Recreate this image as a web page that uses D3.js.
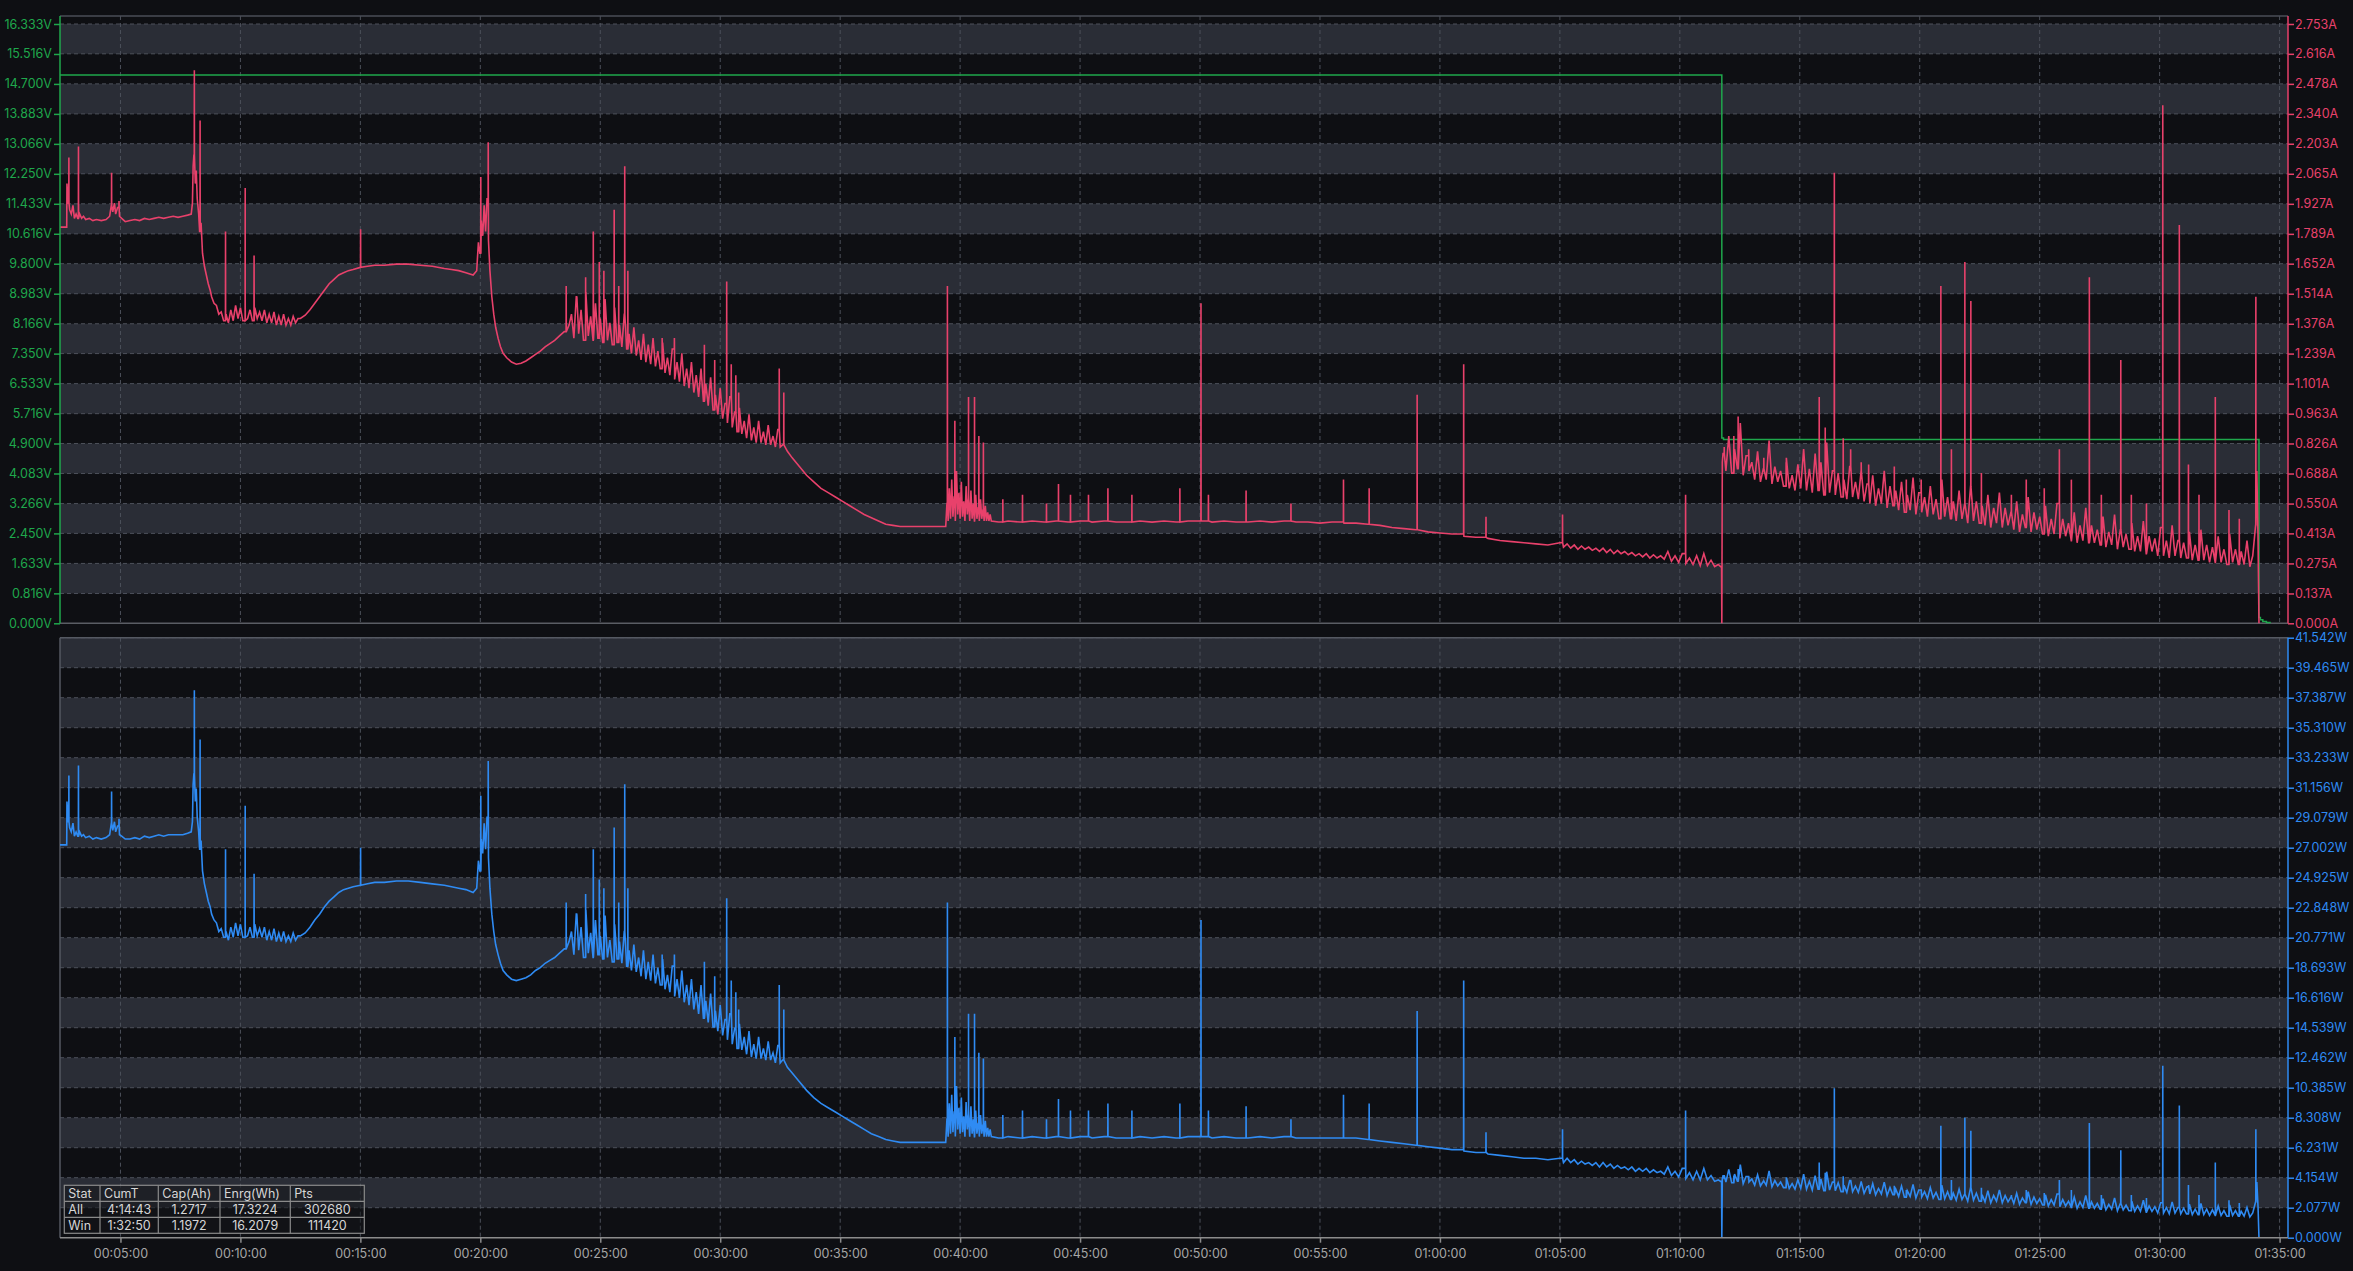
<!DOCTYPE html>
<html><head><meta charset="utf-8">
<script src="https://cdn.jsdelivr.net/npm/d3@7"></script>
<style>
html,body{margin:0;padding:0;background:#0e0f13;}
svg{display:block;}
</style></head><body>
<svg id="chart" width="2353" height="1271"></svg>
<script>
// ---------------- DATA ----------------
const voltLabels = ["0.000V","0.816V","1.633V","2.450V","3.266V","4.083V","4.900V","5.716V","6.533V","7.350V","8.166V","8.983V","9.800V","10.616V","11.433V","12.250V","13.066V","13.883V","14.700V","15.516V","16.333V"];
const ampLabels = ["0.000A","0.137A","0.275A","0.413A","0.550A","0.688A","0.826A","0.963A","1.101A","1.239A","1.376A","1.514A","1.652A","1.789A","1.927A","2.065A","2.203A","2.340A","2.478A","2.616A","2.753A"];
const wattLabels = ["0.000W","2.077W","4.154W","6.231W","8.308W","10.385W","12.462W","14.539W","16.616W","18.693W","20.771W","22.848W","24.925W","27.002W","29.079W","31.156W","33.233W","35.310W","37.387W","39.465W","41.542W"];
const timeTicks = [5,10,15,20,25,30,35,40,45,50,55,60,65,70,75,80,85,90,95];
const timeLabels = ["00:05:00","00:10:00","00:15:00","00:20:00","00:25:00","00:30:00","00:35:00","00:40:00","00:45:00","00:50:00","00:55:00","01:00:00","01:05:00","01:10:00","01:15:00","01:20:00","01:25:00","01:30:00","01:35:00"];

// voltage (minutes, V)
const voltT = [2.48, 71.74, 71.75, 71.82, 94.13, 94.14, 94.20, 94.30, 94.45, 94.60];
const voltV = [14.94, 14.94, 5.05, 5.01, 5.01, 0.16, 0.10, 0.05, 0.02, 0.00];

// current / power: individually read samples (minutes, A, W)
const timeMin = [
2.48,2.76,2.77,2.82,2.88,2.95,3.02,3.08,3.15,3.22,
3.30,3.38,3.46,3.55,3.70,3.85,4.00,4.20,4.40,4.55,
4.62,4.68,4.75,4.80,4.88,4.96,5.05,5.20,5.40,5.60,
5.80,6.00,6.20,6.40,6.60,6.80,7.00,7.20,7.40,7.60,
7.80,7.95,8.00,8.03,8.06,8.12,8.16,8.20,8.26,8.30,
8.36,8.42,8.50,8.58,8.66,8.74,
12.70,12.90,13.10,13.30,13.50,13.70,13.90,14.10,14.30,14.50,14.70,
15.00,15.30,15.60,16.00,16.50,17.00,17.50,18.00,18.50,18.80,
19.10,19.40,19.70,19.85,19.92,19.98,20.04,20.10,20.16,20.22,
20.28,20.34,20.40,20.48,20.56,20.64,20.74,20.84,20.95,21.10,
21.30,21.50,21.70,21.90,22.10,22.30,22.50,22.70,22.90,23.10,
23.30,23.50,23.70,
32.80,33.00,33.30,33.60,33.90,34.20,34.50,34.80,35.10,35.40,
35.70,36.00,36.30,36.60,36.90,37.20,37.50,38.00,38.50,39.00,39.40,
41.6,42.0,42.5,43.0,43.5,44.0,44.5,45.0,45.5,46.0,
46.5,47.0,47.5,48.0,48.5,49.0,49.5,50.0,50.5,51.0,
51.5,52.0,52.5,53.0,53.5,54.0,54.5,55.0,55.5,56.0,
56.5,57.0,57.5,58.0,58.5,59.0,59.5,60.0,60.5,61.0,
61.5,62.0,62.5,63.0,63.5,64.0,64.5,
71.70,71.74,71.75,71.77,
94.05,94.10,94.14
];
const currentA = [
1.82,1.82,2.02,1.93,1.90,1.88,1.92,1.86,1.88,1.86,
1.88,1.86,1.87,1.855,1.86,1.85,1.855,1.85,1.855,1.87,
1.92,1.89,1.93,1.88,1.91,1.87,1.86,1.845,1.85,1.855,
1.85,1.86,1.855,1.86,1.865,1.86,1.865,1.87,1.865,1.87,
1.875,1.88,1.93,2.10,2.15,2.02,2.08,1.95,1.88,1.80,
1.84,1.70,1.64,1.60,1.56,1.53,
1.415,1.44,1.47,1.50,1.53,1.56,1.58,1.60,1.61,1.62,1.625,
1.635,1.64,1.645,1.645,1.65,1.65,1.645,1.64,1.63,1.625,
1.62,1.61,1.60,1.62,1.75,1.70,1.85,1.78,1.92,1.80,
1.95,1.76,1.62,1.50,1.42,1.36,1.31,1.27,1.24,1.22,
1.20,1.19,1.195,1.205,1.22,1.235,1.25,1.27,1.285,1.30,
1.32,1.34,1.37,
0.79,0.76,0.72,0.68,0.65,0.62,0.60,0.58,0.56,0.54,
0.52,0.50,0.485,0.47,0.455,0.45,0.445,0.445,0.445,0.445,0.445,
0.465,0.47,0.465,0.47,0.465,0.47,0.465,0.47,0.465,0.47,
0.465,0.465,0.47,0.465,0.47,0.465,0.47,0.47,0.465,0.47,
0.465,0.465,0.47,0.465,0.47,0.465,0.465,0.46,0.465,0.46,
0.46,0.455,0.45,0.44,0.435,0.43,0.42,0.415,0.41,0.40,
0.395,0.39,0.38,0.375,0.37,0.365,0.36,
0.26,0.26,0.0,0.74,
0.70,0.40,0.0
];
const powerW = [
27.2,27.2,30.2,28.8,28.4,28.1,28.7,27.8,28.1,27.8,
28.1,27.8,27.9,27.7,27.8,27.6,27.7,27.6,27.7,27.9,
28.7,28.2,28.8,28.1,28.5,27.9,27.8,27.6,27.6,27.7,
27.6,27.8,27.7,27.8,27.9,27.8,27.9,27.9,27.9,27.9,
28.0,28.1,28.8,31.4,32.1,30.2,31.1,29.1,28.1,26.9,
27.5,25.4,24.5,23.9,23.3,22.9,
21.1,21.5,22.0,22.4,22.9,23.3,23.6,23.9,24.1,24.2,24.3,
24.4,24.5,24.6,24.6,24.7,24.7,24.6,24.5,24.4,24.3,
24.2,24.1,23.9,24.2,26.1,25.4,27.6,26.6,28.7,26.9,
29.1,26.3,24.2,22.4,21.2,20.3,19.6,19.0,18.5,18.2,
17.9,17.8,17.9,18.0,18.2,18.5,18.7,19.0,19.2,19.4,
19.7,20.0,20.5,
11.8,11.4,10.8,10.2,9.7,9.3,9.0,8.7,8.4,8.1,
7.8,7.5,7.2,7.0,6.8,6.7,6.6,6.6,6.6,6.6,6.6,
6.9,7.0,6.9,7.0,6.9,7.0,6.9,7.0,6.9,7.0,
6.9,6.9,7.0,6.9,7.0,6.9,7.0,7.0,6.9,7.0,
6.9,6.9,7.0,6.9,7.0,6.9,6.9,6.9,6.9,6.9,
6.9,6.8,6.7,6.6,6.5,6.4,6.3,6.2,6.1,6.0,
5.9,5.8,5.7,5.6,5.5,5.5,5.4,
3.9,3.9,0,4.07,
3.85,2.2,0
];

// noisy stretches, read at a fixed sampling step (start minute, step minutes, values)
const noisy1Start = 8.80, noisy1Step = 0.1;
const noisy1A = [
1.50,1.47,1.46,1.42,1.43,1.39,1.42,1.38,1.44,1.39,
1.46,1.40,1.45,1.39,1.47,1.40,1.44,1.39,1.45,1.40,
1.43,1.39,1.44,1.38,1.42,1.38,1.43,1.37,1.41,1.37,
1.42,1.37,1.40,1.37,1.41,1.38,1.40,1.40];
const noisy1W = [
22.4,22.0,21.8,21.2,21.4,20.8,21.2,20.6,21.5,20.8,
21.8,20.9,21.7,20.8,22.0,20.9,21.5,20.8,21.7,20.9,
21.4,20.8,21.5,20.6,21.2,20.6,21.4,20.5,21.1,20.5,
21.2,20.5,20.9,20.5,21.1,20.6,20.9,20.9];

const noisy2Start = 23.80, noisy2Step = 0.1;
const noisy2A = [
1.42,1.31,1.50,1.33,1.44,1.30,1.52,1.32,1.41,1.30,
1.47,1.31,1.40,1.29,1.49,1.30,1.38,1.28,1.45,1.29,
1.37,1.27,1.42,1.26,1.33,1.24,1.36,1.23,1.30,1.21,
1.33,1.20,1.28,1.19,1.31,1.18,1.25,1.17,1.29,1.15,
1.22,1.14,1.26,1.12,1.20,1.11,1.24,1.09,1.17,1.08,
1.20,1.06,1.14,1.04,1.17,1.02,1.10,1.00,1.13,0.98,
1.05,0.96,1.08,0.94,1.01,0.92,1.04,0.90,0.97,0.88,
0.99,0.87,0.93,0.85,0.96,0.84,0.90,0.83,0.93,0.83,
0.88,0.82,0.91,0.82,0.86,0.81,0.89,0.81,0.82];
const noisy2W = [
21.2,19.6,22.4,19.9,21.5,19.4,22.7,19.7,21.1,19.4,
22.0,19.6,20.9,19.3,22.3,19.4,20.6,19.1,21.7,19.3,
20.5,19.0,21.2,18.8,19.9,18.5,20.3,18.4,19.4,18.1,
19.9,17.9,19.1,17.8,19.6,17.6,18.7,17.5,19.3,17.2,
18.2,17.0,18.8,16.7,17.9,16.6,18.5,16.3,17.5,16.1,
17.9,15.8,17.0,15.5,17.5,15.2,16.4,14.9,16.9,14.6,
15.7,14.3,16.1,14.0,15.1,13.7,15.5,13.4,14.5,13.1,
14.8,13.0,13.9,12.7,14.3,12.5,13.4,12.4,13.9,12.4,
13.1,12.3,13.6,12.3,12.8,12.1,13.3,12.1,12.3];

const noisy3Start = 39.45, noisy3Step = 0.05;
const noisy3A = [
0.55,0.47,0.62,0.48,0.66,0.49,0.58,0.47,0.70,0.50,
0.60,0.48,0.65,0.49,0.56,0.47,0.63,0.50,0.57,0.47,
0.61,0.48,0.55,0.47,0.59,0.48,0.53,0.47,0.57,0.48,
0.52,0.47,0.54,0.47,0.51,0.47,0.50,0.47];
const noisy3W = [
8.2,7.0,9.3,7.2,9.9,7.3,8.7,7.0,10.5,7.5,
9.0,7.2,9.7,7.3,8.4,7.0,9.4,7.5,8.5,7.0,
9.1,7.2,8.2,7.0,8.8,7.2,7.9,7.0,8.5,7.2,
7.8,7.0,8.1,7.0,7.6,7.0,7.5,7.0];

const noisy4Start = 65.00, noisy4Step = 0.15;
const noisy4A = [
0.37,0.35,0.365,0.345,0.36,0.34,0.355,0.34,0.35,0.335,
0.345,0.33,0.345,0.325,0.34,0.32,0.335,0.32,0.33,0.315,
0.325,0.31,0.32,0.305,0.32,0.30,0.315,0.30,0.31,0.295,
0.33,0.285,0.31,0.28,0.32,0.275,0.30,0.27,0.31,0.265,
0.32,0.265,0.29,0.26,0.27];
const noisy4W = [
5.5,5.2,5.5,5.2,5.4,5.1,5.3,5.1,5.2,5.0,
5.2,4.9,5.2,4.9,5.1,4.8,5.0,4.8,4.9,4.7,
4.9,4.6,4.8,4.6,4.8,4.5,4.7,4.5,4.6,4.4,
4.9,4.3,4.6,4.2,4.8,4.1,4.5,4.0,4.6,4.0,
4.8,4.0,4.3,3.9,4.0];

const noisy5Start = 71.80, noisy5Step = 0.12;
const noisy5A = [
0.78,0.70,0.86,0.69,0.80,0.71,0.92,0.68,0.77,0.70,
0.74,0.66,0.79,0.65,0.71,0.66,0.84,0.64,0.72,0.65,
0.70,0.63,0.76,0.62,0.68,0.61,0.73,0.62,0.80,0.61,
0.71,0.60,0.78,0.61,0.74,0.59,0.83,0.60,0.70,0.59,
0.69,0.58,0.66,0.57,0.72,0.58,0.65,0.57,0.70,0.56,
0.64,0.55,0.68,0.54,0.62,0.55,0.70,0.53,0.63,0.54,
0.61,0.52,0.65,0.51,0.59,0.52,0.67,0.50,0.60,0.51,
0.58,0.49,0.63,0.50,0.57,0.48,0.66,0.49,0.58,0.48,
0.56,0.47,0.61,0.48,0.55,0.46,0.63,0.47,0.56,0.46,
0.54,0.45,0.59,0.44,0.53,0.46,0.60,0.44,0.53,0.45,
0.51,0.43,0.56,0.42,0.50,0.44,0.58,0.42,0.51,0.43,
0.49,0.41,0.54,0.40,0.48,0.41,0.55,0.39,0.48,0.40,
0.46,0.38,0.51,0.37,0.45,0.38,0.53,0.37,0.45,0.37,
0.43,0.36,0.49,0.35,0.42,0.36,0.50,0.34,0.43,0.35,
0.41,0.34,0.46,0.33,0.40,0.33,0.47,0.32,0.40,0.33,
0.39,0.31,0.44,0.31,0.38,0.30,0.45,0.31,0.38,0.30,
0.37,0.30,0.42,0.29,0.36,0.29,0.43,0.29,0.36,0.28,
0.35,0.28,0.40,0.28,0.34,0.27,0.41,0.28,0.34,0.27,
0.33,0.27,0.38,0.26,0.31,0.45];
const noisy5W = [
4.29,3.85,4.73,3.80,4.40,3.91,5.06,3.74,4.24,3.85,
4.07,3.63,4.35,3.58,3.91,3.63,4.62,3.52,3.96,3.58,
3.85,3.47,4.18,3.41,3.74,3.36,4.02,3.41,4.40,3.36,
3.91,3.30,4.29,3.36,4.07,3.25,4.57,3.30,3.85,3.25,
3.80,3.19,3.63,3.14,3.96,3.19,3.58,3.14,3.85,3.08,
3.52,3.03,3.74,2.97,3.41,3.03,3.85,2.92,3.47,2.97,
3.36,2.86,3.58,2.81,3.25,2.86,3.69,2.75,3.30,2.81,
3.19,2.70,3.47,2.75,3.14,2.64,3.63,2.70,3.19,2.64,
3.08,2.59,3.36,2.64,3.03,2.53,3.47,2.59,3.08,2.53,
2.97,2.48,3.25,2.42,2.92,2.53,3.30,2.42,2.92,2.48,
2.81,2.37,3.08,2.31,2.75,2.42,3.19,2.31,2.81,2.37,
2.70,2.26,2.97,2.20,2.64,2.26,3.03,2.15,2.64,2.20,
2.53,2.09,2.81,2.04,2.48,2.09,2.92,2.04,2.48,2.04,
2.37,1.98,2.70,1.93,2.31,1.98,2.75,1.87,2.37,1.93,
2.26,1.87,2.53,1.82,2.20,1.82,2.59,1.76,2.20,1.82,
2.15,1.71,2.42,1.71,2.09,1.65,2.48,1.71,2.09,1.65,
2.04,1.65,2.31,1.60,1.98,1.60,2.37,1.60,1.98,1.54,
1.93,1.54,2.20,1.54,1.87,1.49,2.26,1.54,1.87,1.49,
1.82,1.49,2.09,1.43,1.71,2.48];

// short spikes (minutes, peak A, peak W)
const spikeT = [
2.85,3.25,4.63,4.94,8.08,8.32,9.38,10.20,10.57,15.01,
20.02,20.33,23.58,24.02,24.39,24.71,24.96,25.15,25.58,25.77,
26.02,26.15,27.58,28.09,29.34,29.77,30.27,30.46,30.65,30.77,
32.46,32.65,39.47,39.78,40.35,40.60,40.78,40.97,41.78,42.60,
43.60,44.10,44.60,45.35,46.16,47.16,49.16,50.04,50.35,51.92,
53.79,55.98,57.05,59.05,60.99,61.92,65.11,70.24,71.85,72.25,
72.43,72.87,73.50,74.43,75.81,76.06,76.44,76.81,77.12,77.56,
77.87,78.94,79.44,80.06,80.88,81.32,81.88,82.13,82.57,83.82,
84.44,85.19,85.82,86.32,87.07,87.57,88.38,88.82,89.45,90.13,
90.82,91.20,91.64,92.32,92.89,93.32,94.01];
const spikeA = [
2.14,2.19,2.07,1.94,2.54,2.31,1.80,2.00,1.69,1.81,
2.05,2.21,1.55,1.49,1.59,1.80,1.66,1.62,1.90,1.55,
2.10,1.62,1.31,1.31,1.28,1.21,1.57,1.19,1.14,1.06,
1.17,1.06,1.55,0.93,1.04,1.04,0.86,0.83,0.57,0.59,
0.55,0.64,0.59,0.59,0.62,0.59,0.62,1.47,0.59,0.61,
0.55,0.66,0.62,1.05,1.19,0.49,0.50,0.59,0.81,0.86,
0.95,0.80,0.76,0.74,1.04,0.90,2.07,0.85,0.80,0.74,
0.73,0.72,0.66,0.66,1.55,0.80,1.66,1.48,0.69,0.59,
0.66,0.62,0.80,0.66,1.59,0.59,1.21,0.59,0.55,2.38,
1.83,0.73,0.59,1.04,0.52,0.48,1.50];
const spikeW = [
32.0,32.7,30.9,29.0,37.9,34.5,26.9,29.9,25.2,27.0,
30.6,33.0,23.2,22.3,23.8,26.9,24.8,24.2,28.4,23.2,
31.4,24.2,19.6,19.6,19.1,18.1,23.5,17.8,17.0,15.8,
17.5,15.8,23.2,13.9,15.5,15.5,12.8,12.4,8.5,8.8,
8.2,9.6,8.8,8.8,9.3,8.8,9.3,22.0,8.8,9.1,
8.2,9.9,9.3,15.7,17.8,7.3,7.5,8.8,4.05,4.3,
4.75,4.0,3.8,3.7,5.2,4.5,10.35,4.25,4.0,3.7,
3.65,3.6,3.3,3.3,7.75,4.0,8.3,7.4,3.45,2.95,
3.3,3.1,4.0,3.3,7.95,2.95,6.05,2.95,2.75,11.9,
9.15,3.65,2.95,5.2,2.6,2.4,7.5];

// stats table
const tableHeader = ["Stat","CumT","Cap(Ah)","Enrg(Wh)","Pts"];
const tableRows = [
  ["All","4:14:43","1.2717","17.3224","302680"],
  ["Win","1:32:50","1.1972","16.2079","111420"]
];

// ---------------- LAYOUT ----------------
const W = 2353, H = 1271;
const L = 60, R = 2288;
const topTop = 16, topBase = 623.3, topTickTop = 24;
const botTop = 637.7, botBase = 1237.7;
const FONT = "Inter, 'Noto Sans', 'DejaVu Sans', sans-serif";
const C = {
  bg: '#0e0f13', band: '#2a2d36', grid: '#4c505a', border: '#4a4e57',
  green: '#1fa84c', red: '#e8416b', blue: '#2f8bf3',
  xlab: '#a6a6a6', axis: '#8c8c8c', tableText: '#d6d6d6', tableLine: '#8a8a8a'
};

const svg = d3.select('#chart');
svg.append('rect').attr('width', W).attr('height', H).attr('fill', C.bg);

const x = d3.scaleLinear().domain([2.48, 95.35]).range([L, R]);
const voltVals = voltLabels.map(parseFloat);
const ampVals = ampLabels.map(parseFloat);
const wattVals = wattLabels.map(parseFloat);
const yV = d3.scaleLinear().domain([0, voltVals[20]]).range([topBase, topTickTop]);
const yA = d3.scaleLinear().domain([0, ampVals[20]]).range([topBase, topTickTop]);
const yW = d3.scaleLinear().domain([0, wattVals[20]]).range([botBase, botTop]);

function panelBackground(yScale, vals, top, bottom) {
  const g = svg.append('g');
  for (let i = 0; i < vals.length - 1; i++) {
    if (i % 2 === 1) {
      g.append('rect').attr('x', L).attr('width', R - L)
        .attr('y', yScale(vals[i + 1])).attr('height', yScale(vals[i]) - yScale(vals[i + 1]))
        .attr('fill', C.band);
    }
  }
  vals.forEach((v, i) => {
    if (i === 0) return;
    g.append('line').attr('x1', L).attr('x2', R).attr('y1', yScale(v)).attr('y2', yScale(v))
      .attr('stroke', C.grid).attr('stroke-width', 1).attr('stroke-dasharray', '4,3');
  });
  timeTicks.forEach(t => {
    g.append('line').attr('x1', x(t)).attr('x2', x(t)).attr('y1', top).attr('y2', bottom)
      .attr('stroke', C.grid).attr('stroke-width', 1).attr('stroke-dasharray', '4,3');
  });
}
panelBackground(yA, ampVals, topTop, topBase);
panelBackground(yW, wattVals, botTop, botBase);

// borders
svg.append('line').attr('x1', L).attr('x2', R).attr('y1', topTop).attr('y2', topTop).attr('stroke', C.border).attr('stroke-width', 1.5);
svg.append('line').attr('x1', L).attr('x2', R).attr('y1', topBase).attr('y2', topBase).attr('stroke', '#5a5d64').attr('stroke-width', 1.5);
svg.append('line').attr('x1', L).attr('x2', R).attr('y1', botTop).attr('y2', botTop).attr('stroke', '#555962').attr('stroke-width', 1.5);
svg.append('line').attr('x1', L).attr('x2', L).attr('y1', botTop).attr('y2', botBase).attr('stroke', '#555962').attr('stroke-width', 1.5);

// clip paths
const defs = svg.append('defs');
defs.append('clipPath').attr('id', 'clipTop').append('rect').attr('x', L).attr('y', topTop).attr('width', R - L).attr('height', topBase - topTop + 1);
defs.append('clipPath').attr('id', 'clipBot').append('rect').attr('x', L).attr('y', botTop).attr('width', R - L).attr('height', botBase - botTop + 1);

// assemble series
const gridPts = (t0, dt, vals) => vals.map((v, i) => ({ t: t0 + i * dt, v }));
function buildSeries(base, sts, svs) {
  base.sort((a, b) => a.t - b.t);
  const out = base.slice();
  sts.forEach((st, k) => {
    let hold = base[0].v;
    for (const p of base) { if (p.t <= st) hold = p.v; else break; }
    out.push({ t: st - 0.004, v: hold }, { t: st, v: svs[k] }, { t: st + 0.004, v: hold });
  });
  out.sort((a, b) => a.t - b.t);
  return out;
}
const curSeries = buildSeries([].concat(
  timeMin.map((t, i) => ({ t, v: currentA[i] })),
  gridPts(noisy1Start, noisy1Step, noisy1A), gridPts(noisy2Start, noisy2Step, noisy2A),
  gridPts(noisy3Start, noisy3Step, noisy3A), gridPts(noisy4Start, noisy4Step, noisy4A),
  gridPts(noisy5Start, noisy5Step, noisy5A)), spikeT, spikeA);
const pwrSeries = buildSeries([].concat(
  timeMin.map((t, i) => ({ t, v: powerW[i] })),
  gridPts(noisy1Start, noisy1Step, noisy1W), gridPts(noisy2Start, noisy2Step, noisy2W),
  gridPts(noisy3Start, noisy3Step, noisy3W), gridPts(noisy4Start, noisy4Step, noisy4W),
  gridPts(noisy5Start, noisy5Step, noisy5W)), spikeT, spikeW);
const voltSeries = voltT.map((t, i) => ({ t, v: voltV[i] }));

const lineOf = (yS, curve) => d3.line().x(d => x(d.t)).y(d => yS(d.v)).curve(curve);

const gTop = svg.append('g').attr('clip-path', 'url(#clipTop)');
gTop.append('path').datum(voltSeries).attr('d', lineOf(yV, d3.curveStepAfter)).attr('fill', 'none').attr('stroke', C.green).attr('stroke-width', 1.5);
gTop.append('path').datum(curSeries).attr('d', lineOf(yA, d3.curveLinear)).attr('fill', 'none').attr('stroke', C.red).attr('stroke-width', 1.6);

const gBot = svg.append('g').attr('clip-path', 'url(#clipBot)');
gBot.append('path').datum(pwrSeries).attr('d', lineOf(yW, d3.curveLinear)).attr('fill', 'none').attr('stroke', C.blue).attr('stroke-width', 1.6);

// axes
function styleAxis(g, color, size) {
  g.attr('font-family', FONT).attr('font-size', size);
  g.select('.domain').remove();
  g.selectAll('.tick line').attr('stroke', color).attr('stroke-width', 1.5);
  g.selectAll('.tick text').attr('fill', color);
}
const gV = svg.append('g').attr('transform', `translate(${L},0)`)
  .call(d3.axisLeft(yV).tickValues(voltVals).tickFormat((d, i) => voltLabels[i]).tickSize(6).tickPadding(2));
styleAxis(gV, C.green, 12.5);
svg.append('line').attr('x1', L).attr('x2', L).attr('y1', topTop).attr('y2', topBase).attr('stroke', C.green).attr('stroke-width', 1.5);

const gA = svg.append('g').attr('transform', `translate(${R},0)`)
  .call(d3.axisRight(yA).tickValues(ampVals).tickFormat((d, i) => ampLabels[i]).tickSize(6).tickPadding(1));
styleAxis(gA, C.red, 12.5);
svg.append('line').attr('x1', R).attr('x2', R).attr('y1', topTop).attr('y2', topBase).attr('stroke', C.red).attr('stroke-width', 1.5);

const gW = svg.append('g').attr('transform', `translate(${R},0)`)
  .call(d3.axisRight(yW).tickValues(wattVals).tickFormat((d, i) => wattLabels[i]).tickSize(6).tickPadding(1));
styleAxis(gW, C.blue, 12.5);
svg.append('line').attr('x1', R).attr('x2', R).attr('y1', botTop).attr('y2', botBase).attr('stroke', C.blue).attr('stroke-width', 1.5);

const gX = svg.append('g').attr('transform', `translate(0,${botBase})`)
  .call(d3.axisBottom(x).tickValues(timeTicks).tickFormat((d, i) => timeLabels[i]).tickSize(5).tickPadding(6));
styleAxis(gX, C.xlab, 12.5);
gX.selectAll('.tick line').attr('stroke', C.axis);
svg.append('line').attr('x1', L).attr('x2', R).attr('y1', botBase).attr('y2', botBase).attr('stroke', C.axis).attr('stroke-width', 1.5);

// stats table
const colEdges = [64.3, 100, 158.3, 220, 290.3, 364.3];
const rowEdges = [1185.3, 1201.3, 1217.3, 1233.3];
const gT = svg.append('g').attr('font-family', FONT).attr('font-size', 12.5);
gT.append('rect').attr('x', colEdges[0]).attr('y', rowEdges[0])
  .attr('width', colEdges[5] - colEdges[0]).attr('height', rowEdges[3] - rowEdges[0])
  .attr('fill', 'rgba(20,21,26,0.55)').attr('stroke', C.tableLine).attr('stroke-width', 1.2);
colEdges.slice(1, 5).forEach(cx => gT.append('line').attr('x1', cx).attr('x2', cx).attr('y1', rowEdges[0]).attr('y2', rowEdges[3]).attr('stroke', C.tableLine).attr('stroke-width', 1.2));
rowEdges.slice(1, 3).forEach(ry => gT.append('line').attr('x1', colEdges[0]).attr('x2', colEdges[5]).attr('y1', ry).attr('y2', ry).attr('stroke', C.tableLine).attr('stroke-width', 1.2));
tableHeader.forEach((h, j) => {
  gT.append('text').attr('x', colEdges[j] + 4).attr('y', (rowEdges[0] + rowEdges[1]) / 2).attr('dy', '0.36em')
    .attr('fill', C.tableText).text(h);
});
tableRows.forEach((row, r) => {
  row.forEach((cell, j) => {
    const cy = (rowEdges[r + 1] + rowEdges[r + 2]) / 2;
    const t = gT.append('text').attr('y', cy).attr('dy', '0.36em').attr('fill', C.tableText).text(cell);
    if (j === 0) t.attr('x', colEdges[0] + 4);
    else t.attr('x', (colEdges[j] + colEdges[j + 1]) / 2).attr('text-anchor', 'middle');
  });
});

const checks = [
  [timeMin.length, currentA.length, powerW.length],
  [noisy1A.length, noisy1W.length], [noisy2A.length, noisy2W.length], [noisy3A.length, noisy3W.length],
  [noisy4A.length, noisy4W.length], [noisy5A.length, noisy5W.length], [spikeT.length, spikeA.length, spikeW.length]
];
const bad = checks.filter(c => c.some(v => v !== c[0]));
if (bad.length) {
  svg.append('text').attr('x', 400).attr('y', 400).attr('fill', 'yellow').attr('font-size', 30)
    .text('LEN MISMATCH ' + JSON.stringify(bad));
}
</script>
</body></html>
